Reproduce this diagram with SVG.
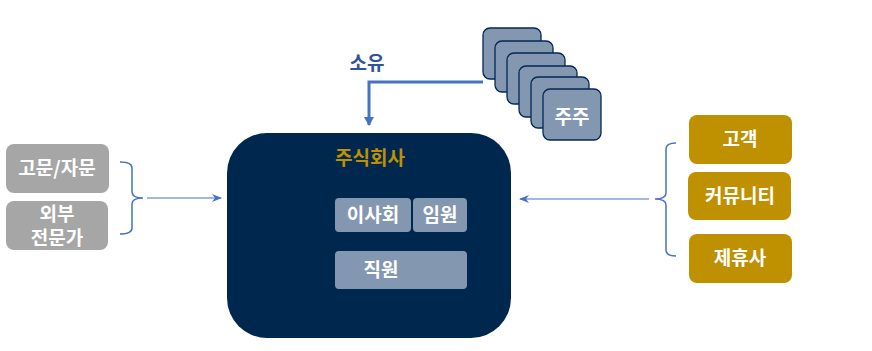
<svg xmlns="http://www.w3.org/2000/svg" width="872" height="351" viewBox="0 0 872 351">
<defs>
<style>
.t{font-family:"Noto Sans CJK KR","Noto Sans",sans-serif;font-weight:bold;font-size:19px;text-anchor:middle;fill:#fff}
.sh{fill:#8497B0;stroke:#002855;stroke-width:1.3}
.in{fill:#8497B0}
.gr{fill:#A6A6A6}
.go{fill:#BF9000}
.br{fill:none;stroke:#4472C4;stroke-width:1.5}
.ar{fill:none;stroke:#4472C4;stroke-width:1.2}
</style>
<marker id="ah" markerWidth="10" markerHeight="8" refX="9" refY="4" orient="auto" markerUnits="userSpaceOnUse">
<path d="M0,0 L10,4 L0,8 L3,4 Z" fill="#4472C4"/>
</marker>
<marker id="ah2" markerWidth="10" markerHeight="10" refX="8" refY="5" orient="auto" markerUnits="userSpaceOnUse">
<path d="M0,0 L9,5 L0,10 Z" fill="#4472C4"/>
</marker>
</defs>
<g id="shareholders">
<rect class="sh" x="483" y="28" width="58" height="51" rx="7"/>
<rect class="sh" x="495" y="41" width="58" height="51" rx="7"/>
<rect class="sh" x="507" y="53" width="58" height="51" rx="7"/>
<rect class="sh" x="519" y="66" width="58" height="51" rx="7"/>
<rect class="sh" x="531" y="77" width="58" height="51" rx="7"/>
<rect class="sh" x="543" y="89" width="58" height="51" rx="7"/>
<text class="t" x="572" y="124">주주</text>
</g>
<g id="company">
<rect x="227" y="133" width="284" height="205" rx="40" fill="#00284F"/>
<text class="t" x="370" y="165" style="fill:#BF9000">주식회사</text>
</g>
<g id="board">
<rect class="in" x="335" y="198" width="76" height="34" rx="4"/>
<text class="t" x="373" y="222">이사회</text>
</g>
<g id="executives">
<rect class="in" x="413" y="198" width="54" height="34" rx="4"/>
<text class="t" x="440" y="222">임원</text>
</g>
<g id="employees">
<rect class="in" x="335" y="251" width="132" height="38" rx="4"/>
<text class="t" x="381" y="277">직원</text>
</g>
<g id="advisory">
<rect class="gr" x="6" y="144" width="103" height="49" rx="8"/>
<text class="t" x="57" y="175">고문/자문</text>
</g>
<g id="experts">
<rect class="gr" x="6" y="201" width="102" height="49" rx="8"/>
<text class="t" x="57" y="221">외부</text>
<text class="t" x="57" y="245">전문가</text>
</g>
<g id="customer">
<rect class="go" x="689" y="115" width="103" height="49" rx="8"/>
<text class="t" x="740" y="146">고객</text>
</g>
<g id="community">
<rect class="go" x="688" y="172" width="103" height="48" rx="8"/>
<text class="t" x="740" y="203">커뮤니티</text>
</g>
<g id="partner">
<rect class="go" x="689" y="234" width="103" height="49" rx="8"/>
<text class="t" x="740" y="265">제휴사</text>
</g>
<g id="connectors">
<path d="M483,82 H369 V125" fill="none" stroke="#4472C4" stroke-width="3" marker-end="url(#ah2)"/>
<text x="367" y="70" style="font-family:'Noto Sans CJK KR',sans-serif;font-weight:bold;font-size:19px;text-anchor:middle;fill:#2F5597">소유</text>
<path class="br" d="M120,162 Q132,162 132,168 V192 Q132,198 143,198 Q132,198 132,204 V228 Q132,234 120,234"/>
<path class="ar" d="M147,198 H221" marker-end="url(#ah)"/>
<path class="br" d="M676,143 Q666,143 666,149 V193 Q666,199 655,199 Q666,199 666,205 V250 Q666,256 676,256"/>
<path class="ar" d="M649,199 H520" marker-end="url(#ah)"/>
</g>
</svg>
